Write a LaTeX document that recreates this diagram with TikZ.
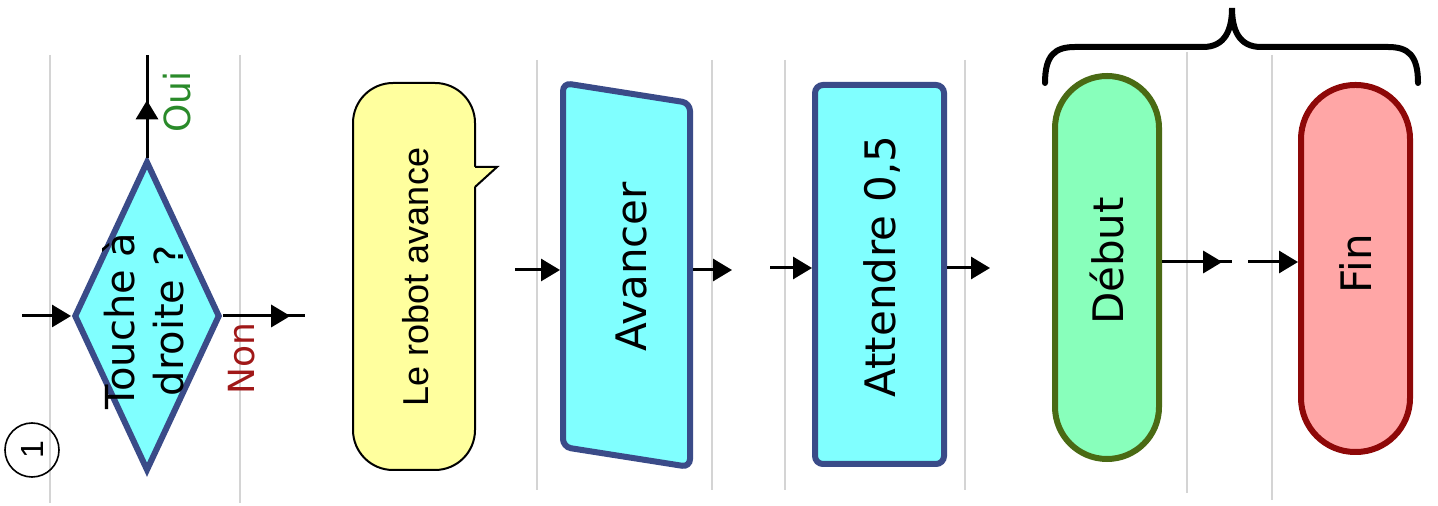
\documentclass[tikz,border=0pt]{standalone}
\usepackage{fontspec}
\setmainfont{DejaVu Sans}
\newfontfamily\arialfont{Liberation Sans}
\usetikzlibrary{shapes.geometric,arrows.meta,decorations.markings,calc}
\definecolor{cyanfill}{HTML}{80FFFF}
\definecolor{blueedge}{HTML}{3A4B88}
\definecolor{gridgray}{HTML}{D4D4D4}
\definecolor{bubblefill}{HTML}{FFFF9E}
\definecolor{startfill}{HTML}{88FFBB}
\definecolor{startedge}{HTML}{4A6A14}
\definecolor{endfill}{HTML}{FFA6A6}
\definecolor{endedge}{HTML}{8E0808}
\definecolor{ouigreen}{HTML}{2A8A2A}
\definecolor{nonred}{HTML}{A01818}
\begin{document}
\begin{tikzpicture}[x=0.5pt,y=-0.5pt,
  grid/.style={draw=gridgray,line width=1pt},
  blk/.style={fill=cyanfill,draw=blueedge,line width=3pt},
  lbl/.style={rotate=90,inner sep=0pt,align=center},
  conn/.style={line width=1.5pt,-{Triangle[length=9.5pt,width=11pt]}},
  midarr/.style={line width=1.5pt,decoration={markings,mark=at position #1 with {\arrow{Triangle[length=9.5pt,width=11pt]}}},postaction={decorate}},
]
\useasboundingbox (0,0) rectangle (1438,506);
% grid lines
\foreach \gx/\ga/\gb in {50/55/503, 240/55/503, 537/60/490, 712/60/490, 785/60/490, 965/60/490, 1187/52/493, 1272/55/500}
  \draw[grid] (\gx,\ga) -- (\gx,\gb);
% decision
\node[diamond,blk,minimum width=73pt,minimum height=155pt,inner sep=0pt] (d) at (147,316) {};
\node[lbl,font=\fontsize{20}{24.5}\selectfont] (dtext) at (143,321) {Touche à\\droite ?};
\node[lbl,font=\fontsize{18}{20}\selectfont,text=ouigreen] (oui) at (177,102) {Oui};
\node[lbl,font=\fontsize{18}{20}\selectfont,text=nonred] (non) at (242,359) {Non};
\coordinate (dL) at (22,316);
\draw[conn] (dL) -- (d.west);
\coordinate (dTop) at (147,55);
\draw[midarr=0.56] (d.north) -- (dTop);
\coordinate (dRight) at (305,316);
\draw[midarr=0.82] (d.east) -- (dRight);
\node[circle,draw,line width=0.8pt,minimum size=27pt,inner sep=0pt,rotate=90,font=\arialfont\fontsize{16}{16}\selectfont] (num) at (32,450) {1};
% comment bubble
\node[draw=black,line width=1pt,fill=bubblefill,rounded corners=20pt,minimum width=61pt,minimum height=193.5pt] (bub) at (414,276.5) {};
\fill[bubblefill] (472,167) -- (497,167) -- (474,187) -- (472,187) -- cycle;
\draw[line width=1pt,line join=miter] (475,167) -- (497,167) -- (475,187);
\node[lbl,font=\arialfont\fontsize{18}{20}\selectfont] (bubtext) at (416,277) {Le robot avance};
% Avancer
\node[minimum width=63.5pt,minimum height=192pt,inner sep=0pt,outer sep=0pt] (av) at (626.5,275) {};
\draw[blk,rounded corners=4pt] (av.north west) -- ([yshift=-10pt]av.north east) -- (av.south east) -- ([yshift=10pt]av.south west) -- cycle;
\node[lbl,font=\fontsize{21}{24}\selectfont] (avtext) at (631,267) {Avancer};
\coordinate (avIn) at (515,270);
\draw[conn,shorten >=1.5pt] (avIn) -- (avIn -| av.west);
\coordinate (avOut) at (732,270);
\draw[conn,shorten <=1.5pt] (avOut -| av.east) -- (avOut);
% Attendre
\node[blk,rectangle,rounded corners=4pt,minimum width=64.5pt,minimum height=189.5pt] (att) at (879.5,274.5) {};
\node[lbl,font=\fontsize{21}{24}\selectfont] (atttext) at (882,266.5) {Attendre 0,5};
\coordinate (attIn) at (770,268);
\draw[conn] (attIn) -- (attIn -| att.west);
\coordinate (attOut) at (990,268);
\draw[conn] (attOut -| att.east) -- (attOut);
% Debut / Fin
\node[draw=startedge,fill=startfill,line width=3pt,rounded corners=26pt,minimum width=52pt,minimum height=191.5pt] (deb) at (1107,267.5) {};
\node[lbl,font=\fontsize{21}{24}\selectfont] (debtext) at (1107,261) {Début};
\node[draw=endedge,fill=endfill,line width=3pt,rounded corners=27pt,minimum width=54.5pt,minimum height=183.5pt] (fin) at (1355.5,268.5) {};
\node[lbl,font=\fontsize{21}{24}\selectfont] (fintext) at (1356,264) {Fin};
\coordinate (debOut) at (1232,262);
\draw[midarr=0.86] (debOut -| deb.east) -- (debOut);
\coordinate (finIn) at (1248,262);
\draw[conn] (finIn) -- (finIn -| fin.west);
% brace
\draw[line width=3pt,line cap=round] (1045,83) .. controls (1045,55) and (1055,47) .. (1075,47) -- (1203,47) .. controls (1225,47) and (1232,30) .. (1232,8) .. controls (1232,30) and (1239,47) .. (1261,47) -- (1388,47) .. controls (1408,47) and (1418,55) .. (1418,83);
\end{tikzpicture}
\end{document}
